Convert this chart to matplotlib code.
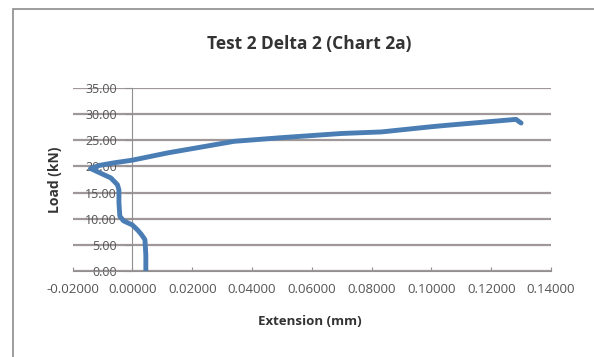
import matplotlib.pyplot as plt
from matplotlib.ticker import FormatStrFormatter, MultipleLocator
from matplotlib.patches import Rectangle

# --- données ---
extension = [0.0045, 0.0045, 0.0042, 0.0030, 0.0018, 0.0000, -0.0030, -0.0042,
             -0.0045, -0.0045, -0.0050, -0.0072, -0.0110, -0.0140, -0.0110,
             -0.0060, 0.0000, 0.0119, 0.0230, 0.0340, 0.0498, 0.0699, 0.0833,
             0.1001, 0.1058, 0.1283, 0.1300]
charge = [0.0, 3.0, 6.0, 7.0, 7.8, 8.8, 9.6, 10.5,
          13.0, 15.5, 16.5, 17.8, 18.8, 19.6, 20.2,
          20.7, 21.2, 22.6, 23.7, 24.8, 25.5, 26.3, 26.6,
          27.6, 27.9, 29.0, 28.3]

titre = "Test 2 Delta 2 (Chart 2a)"
label_x = "Extension (mm)"
label_y = "Load (kN)"

plt.rcParams['font.family'] = ['Open Sans', 'DejaVu Sans']

fig = plt.figure(figsize=(5.94, 3.57), dpi=100)
fig.patch.set_facecolor('white')

# cadre du graphique (bord gris)
fig.add_artist(Rectangle((0.022, -0.02), 1.0, 0.995, transform=fig.transFigure,
                         fill=False, edgecolor='#8c8c8c', linewidth=1.2))

ax = fig.add_axes([0.1222, 0.2409, 0.8054, 0.5126])

ax.set_xlim(-0.02, 0.14)
ax.set_ylim(0, 35)
ax.xaxis.set_major_locator(MultipleLocator(0.02))
ax.yaxis.set_major_locator(MultipleLocator(5))
ax.xaxis.set_major_formatter(FormatStrFormatter('%.5f'))
ax.yaxis.set_major_formatter(FormatStrFormatter('%.2f'))

ax.grid(True, axis='y', color='#a09898', linewidth=1.6)
ax.set_axisbelow(True)

# l'axe vertical passe par x = 0, comme dans Excel
ax.spines['left'].set_position(('data', 0))
ax.spines['left'].set_color('#909090')
for s in ['top', 'right']:
    ax.spines[s].set_visible(False)
ax.spines['bottom'].set_color('#909090')

ax.tick_params(axis='x', labelsize=9.5, colors='#909090', labelcolor='#555555',
               direction='in', length=3, pad=9)
ax.tick_params(axis='y', labelsize=9, colors='#909090', labelcolor='#555555',
               direction='out', length=5, pad=6)

ax.plot(extension, charge, color='#4a7db4', linewidth=3.5, solid_capstyle='round',
        solid_joinstyle='round', zorder=3)

fig.text(0.52, 0.877, titre, ha='center', va='center', fontsize=12.5,
         fontweight='bold', color='#333333')
fig.text(0.522, 0.10, label_x, ha='center', va='center', fontsize=9.5,
         fontweight='bold', color='#333333')
fig.text(0.0926, 0.495, label_y, ha='center', va='center', fontsize=10,
         fontweight='bold', color='#333333', rotation=90)

fig.savefig('out.png', dpi=100)
